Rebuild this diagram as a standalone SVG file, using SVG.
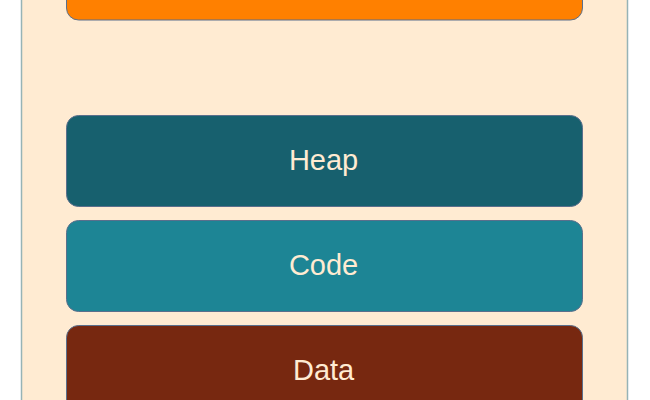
<svg xmlns="http://www.w3.org/2000/svg" width="650" height="400" viewBox="0 0 650 400">
<style>
.blk{stroke:#5a6f8c;stroke-width:1}
.lbl{font-family:"Liberation Sans",Arial,sans-serif;font-size:29px;fill:#FFEBD2;text-anchor:middle}
</style>
<rect width="650" height="400" fill="#ffffff"/>
<g id="container">
<rect x="21.5" y="-60" width="606" height="520" rx="14" fill="#FFEBD2" stroke="#96b3b6" stroke-width="1.5"/>
</g>
<g id="stack">
<rect class="blk" x="66.5" y="-71" width="516" height="91" rx="12" fill="#FF8000"/>
</g>
<g id="heap">
<rect class="blk" x="66.5" y="115.5" width="516" height="91" rx="12" fill="#17606E"/>
<text class="lbl" x="323.6" y="169.5">Heap</text>
</g>
<g id="code">
<rect class="blk" x="66.5" y="220.5" width="516" height="91" rx="12" fill="#1D8595"/>
<text class="lbl" x="323.6" y="274.5">Code</text>
</g>
<g id="data">
<rect class="blk" x="66.5" y="325.5" width="516" height="91" rx="12" fill="#772810"/>
<text class="lbl" x="323.6" y="379.5">Data</text>
</g>
<g id="connectors"></g>
</svg>
